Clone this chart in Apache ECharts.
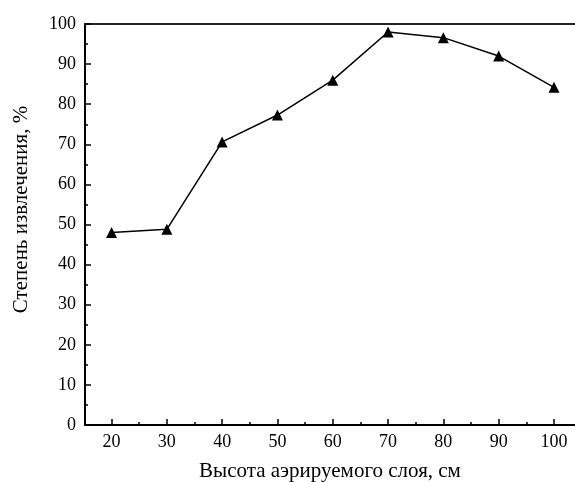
<!DOCTYPE html>
<html>
<head>
<meta charset="utf-8">
<script src="https://cdn.jsdelivr.net/npm/echarts@6/dist/echarts.min.js"></script>
<style>html,body{margin:0;padding:0;background:#fff}#c{width:575px;height:482px}</style>
</head>
<body>
<div id="c"></div>
<script>
var heights = [20, 30, 40, 50, 60, 70, 80, 90, 100];
var recovery = [48.0, 48.8, 70.6, 77.3, 86.0, 98.0, 96.6, 92.0, 84.2];
var xMajorTicks = [20, 30, 40, 50, 60, 70, 80, 90, 100];
var xMinorTicks = [25, 35, 45, 55, 65, 75, 85, 95];
var xTitle = 'Высота аэрируемого слоя, см';
var yTitle = 'Степень извлечения, %';

var font = '"Liberation Serif", "DejaVu Serif", serif';
var chart = echarts.init(document.getElementById('c'), null, {renderer: 'canvas'});
chart.setOption({
  animation: false,
  backgroundColor: '#fff',
  grid: {left: 85, right: 0, top: 24, bottom: 57, containLabel: false, outerBoundsMode: 'none'},
  xAxis: [{
    type: 'value', min: 15.2, max: 103.8, position: 'bottom',
    name: xTitle, nameLocation: 'middle', nameGap: 36,
    nameTextStyle: {fontFamily: font, fontSize: 21, color: '#000'},
    axisLine: {show: true, lineStyle: {color: '#000', width: 2}},
    axisTick: {show: true, inside: true, length: 6, customValues: xMajorTicks, lineStyle: {color: '#000', width: 1.5}},
    axisLabel: {show: true, customValues: xMajorTicks, margin: 8, fontFamily: font, fontSize: 18, color: '#000'},
    splitLine: {show: false}
  }, {
    type: 'value', min: 15.2, max: 103.8, position: 'bottom',
    axisLine: {show: false},
    axisTick: {show: true, inside: true, length: 3, customValues: xMinorTicks, lineStyle: {color: '#000', width: 1.5}},
    axisLabel: {show: false},
    splitLine: {show: false}
  }, {
    type: 'value', min: 15.2, max: 103.8, position: 'top',
    axisLine: {show: true, lineStyle: {color: '#222', width: 2}},
    axisTick: {show: false}, axisLabel: {show: false}, splitLine: {show: false}
  }],
  yAxis: [{
    type: 'value', min: 0, max: 100, interval: 10,
    name: yTitle, nameLocation: 'middle', nameGap: 53, nameRotate: 90,
    nameTextStyle: {fontFamily: font, fontSize: 21, color: '#000', padding: [0, 0, 0, 30]},
    axisLine: {show: true, lineStyle: {color: '#000', width: 2}},
    axisTick: {show: true, inside: true, length: 6, lineStyle: {color: '#000', width: 1.5}},
    minorTick: {show: true, splitNumber: 2, length: 3, lineStyle: {color: '#000', width: 1.5}},
    axisLabel: {margin: 9, fontFamily: font, fontSize: 18, color: '#000'},
    splitLine: {show: false}
  }],
  series: [{
    type: 'line',
    xAxisIndex: 0,
    data: heights.map(function (h, i) { return [h, recovery[i]]; }),
    symbol: 'triangle', symbolSize: 11,
    itemStyle: {color: '#000'},
    lineStyle: {color: '#000', width: 1.5},
    clip: false
  }]
});
</script>
</body>
</html>
